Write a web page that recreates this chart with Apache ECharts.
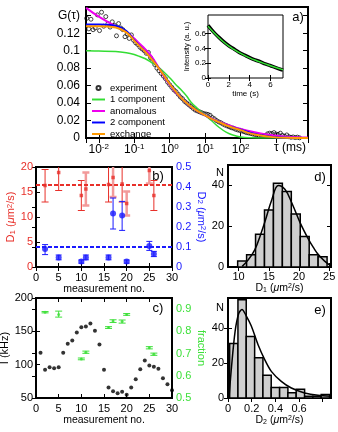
<!DOCTYPE html>
<html>
<head>
<meta charset="utf-8" />
<script src="https://cdn.jsdelivr.net/npm/echarts@6.0.0/dist/echarts.min.js"></script>
<style>body{margin:0;background:#fff}</style>
</head>
<body>
<div id="main" style="width:338px;height:432px"></div>
<script type="text/javascript">
// ---- panel a: FCS autocorrelation ----
var tauFit = [0.0044, 0.01, 0.03, 0.06, 0.1, 0.15, 0.2, 0.3, 0.45, 0.65, 1, 1.5, 2, 3, 4, 6, 10, 15, 25, 40, 60, 100, 200, 400, 800, 2000, 7900];
var g1comp = [0.0998, 0.0995, 0.099, 0.0975, 0.0955, 0.093, 0.091, 0.087, 0.082, 0.0765, 0.069, 0.061, 0.056, 0.048, 0.041, 0.034, 0.026, 0.020, 0.012, 0.0065, 0.0035, 0.0012, 0.0003, 0.0001, 0, 0, 0];
var gAnom = [0.149, 0.139, 0.128, 0.1215, 0.114, 0.107, 0.102, 0.094, 0.083, 0.072, 0.061, 0.052, 0.047, 0.040, 0.0355, 0.031, 0.026, 0.0225, 0.0185, 0.0155, 0.013, 0.0105, 0.0075, 0.005, 0.0032, 0.0015, 0.0005];
var g2comp = [0.130, 0.130, 0.1285, 0.1225, 0.112, 0.104, 0.099, 0.091, 0.082, 0.073, 0.062, 0.053, 0.047, 0.040, 0.036, 0.031, 0.026, 0.022, 0.018, 0.0145, 0.012, 0.0095, 0.0055, 0.0028, 0.0012, 0.0003, 0];
var gExch = [0.128, 0.128, 0.1265, 0.121, 0.1115, 0.104, 0.099, 0.091, 0.082, 0.073, 0.062, 0.053, 0.047, 0.040, 0.036, 0.031, 0.026, 0.022, 0.018, 0.0143, 0.0118, 0.009, 0.005, 0.0025, 0.001, 0.0002, 0];

var tauExp = [
  0.00457, 0.00525, 0.00603, 0.00692, 0.00794, 0.00912, 0.0105, 0.0120, 0.0138, 0.0158,
  0.0182, 0.0209, 0.0240, 0.0275, 0.0316, 0.0363, 0.0417, 0.0479, 0.0550, 0.0631,
  0.0724, 0.0832, 0.0955, 0.110, 0.126, 0.145, 0.166, 0.191, 0.219, 0.251,
  0.288, 0.331, 0.380, 0.437, 0.501, 0.575, 0.661, 0.759, 0.871, 1.00,
  1.15, 1.32, 1.51, 1.74, 2.00, 2.29, 2.63, 3.02, 3.47, 3.98,
  4.57, 5.25, 6.03, 6.92, 7.94, 9.12, 10.5, 12.0, 13.8, 15.8,
  18.2, 20.9, 24.0, 27.5, 31.6, 36.3, 41.7, 47.9, 55.0, 63.1,
  72.4, 83.2, 95.5, 110, 126, 145, 166, 191, 219, 251,
  288, 331, 380, 437, 501, 575, 661, 759, 871, 1000,
  1150, 1320, 1510, 1740, 2000, 2290, 2630, 3020, 3470, 3980,
  4570
];
var gExp = [
  0.137, 0.125, 0.136, 0.124, 0.126, 0.141, 0.123, 0.144, 0.128, 0.139,
  0.131, 0.127, 0.133, 0.129, 0.117, 0.131, 0.126, 0.124, 0.116, 0.119,
  0.114, 0.118, 0.112, 0.109, 0.107, 0.104, 0.102, 0.100, 0.097, 0.098,
  0.092, 0.088, 0.084, 0.080, 0.077, 0.074, 0.071, 0.068, 0.064, 0.061,
  0.058, 0.055, 0.053, 0.050, 0.047, 0.045, 0.042, 0.040, 0.038, 0.036,
  0.034, 0.032, 0.031, 0.030, 0.029, 0.028, 0.0275, 0.027, 0.026, 0.0235,
  0.022, 0.020, 0.0185, 0.0175, 0.016, 0.0148, 0.0138, 0.0128, 0.0118, 0.0112,
  0.0100, 0.0092, 0.0085, 0.0080, 0.0072, 0.0062, 0.0058, 0.0052, 0.0046, 0.0040,
  0.0038, 0.0030, 0.0028, 0.0022, 0.0030, 0.0048, 0.0055, 0.0050, 0.0062, 0.0045,
  0.0040, 0.0055, 0.0030, 0.0020, 0.0035, 0.0015, 0.0008, 0.0012, 0.0005, 0.0010,
  0.0002
];

// inset: intensity trace
var tInset = [0, 0.5, 1, 1.5, 2, 2.5, 3, 3.5, 4, 4.5, 5, 5.5, 6, 6.5, 7, 7.2];
var iData = [0.71, 0.625, 0.555, 0.49, 0.435, 0.39, 0.345, 0.31, 0.275, 0.245, 0.22, 0.19, 0.165, 0.14, 0.115, 0.105];
var iFit = [0.70, 0.62, 0.55, 0.485, 0.43, 0.385, 0.342, 0.305, 0.272, 0.242, 0.215, 0.19, 0.165, 0.142, 0.12, 0.11];

// ---- panel b: diffusion coefficients per measurement ----
var measNo = [2, 5, 10, 11, 16, 17, 19, 20, 25, 26];
var d1 = [16.3, 18.9, 14.3, 15.6, 16.5, 17.9, 16.6, 12.7, 19.3, 14.3];
var d1Lo = [13.0, 15.3, 11.3, 12.3, 13.0, 14.0, 13.0, 10.3, 16.7, 11.3];
var d1Hi = [19.5, 21.0, 17.3, 18.9, 22.0, 22.0, 22.0, 15.1, 21.0, 17.3];
var d1Faint = [0, 0, 0, 1, 0, 1, 0, 1, 1, 0];
var d2 = [0.090, 0.048, 0.027, 0.048, 0.048, 0.268, 0.257, 0.027, 0.105, 0.065];
var d2Lo = [0.062, 0.036, 0.019, 0.036, 0.036, 0.190, 0.183, 0.019, 0.083, 0.052];
var d2Hi = [0.112, 0.060, 0.035, 0.060, 0.060, 0.345, 0.328, 0.035, 0.128, 0.078];
var d1Mean = 16.5;
var d2Mean = 0.1;

// ---- panel c: intensity and fraction ----
var measAll = [1, 2, 3, 4, 5, 6, 7, 8, 9, 10, 11, 12, 13, 14, 15, 16, 17, 18, 19, 20, 21, 22, 23, 24, 25, 26, 27, 28, 29, 30];
var intensity = [118, 92.3, 96.3, 94.8, 96.3, 118, 131.3, 136.3, 148.3, 156.3, 157.3, 161.8, 150.8, 130.3, 92.3, 65.8, 60.3, 57.3, 59.3, 54.8, 65.8, 78.3, 93.3, 106.3, 98.8, 96.8, 93.8, 79.8, 70.8, 61.8];
var frac = [0.886, 0.876, 0.676, 0.706, 0.817, 0.846, 0.844, 0.876, 0.726, 0.697];
var fracLo = [0.883, 0.864, 0.672, 0.701, 0.813, 0.840, 0.837, 0.872, 0.721, 0.692];
var fracHi = [0.889, 0.891, 0.680, 0.711, 0.821, 0.852, 0.851, 0.880, 0.731, 0.702];

// ---- panel d: histogram of D1 ----
var d1BinLo = [9.85, 11.33, 12.81, 14.29, 15.77, 17.25, 18.73, 20.21, 21.69, 23.17];
var d1BinHi = [11.33, 12.81, 14.29, 15.77, 17.25, 18.73, 20.21, 21.69, 23.17, 24.65];
var d1Count = [3, 6, 16, 28, 41, 37, 26, 15, 6, 5];
var d1FitX = [10.6, 11.6, 12.7, 13.6, 14.4, 15.5, 16.6, 17.7, 18.8, 20.2, 21.6, 22.4, 23.2, 24.2, 25.2];
var d1FitN = [0.3, 3.5, 8.5, 15.5, 22.5, 33, 40, 38, 31.5, 21.6, 13.4, 9.5, 6.1, 3, 0.7];

// ---- panel e: histogram of D2 ----
var d2BinLo = [0.014, 0.084, 0.154, 0.225, 0.295, 0.365, 0.436, 0.506, 0.576, 0.647, 0.717, 0.787];
var d2BinHi = [0.084, 0.154, 0.225, 0.295, 0.365, 0.436, 0.506, 0.576, 0.647, 0.717, 0.787, 0.858];
var d2Count = [31, 56, 35, 23, 13, 6, 6, 3, 5, 1, 1, 2];
var d2FitX = [0.008, 0.03, 0.06, 0.09, 0.118, 0.155, 0.197, 0.253, 0.31, 0.366, 0.45, 0.535, 0.647, 0.76, 0.867];
var d2FitN = [0, 18, 38, 48, 50.5, 46.7, 41, 30.5, 21.9, 15.2, 9.5, 5.7, 2.9, 1.5, 1.0];

var FONT = "'Liberation Sans', Arial, Helvetica, sans-serif";
var RED = '#e8302a', BLUE = '#1a1aff', GREEN = '#3ee03a';
var LINE_ICON = 'path://M0,0 H20 V3 H0 Z';

function zip() {
  var cols = Array.prototype.slice.call(arguments);
  return cols[0].map(function (v, i) {
    return cols.map(function (c) { return c[i]; });
  });
}

function richFor(color, size) {
  return {
    sub: {fontSize: Math.round(size * 0.7), color: color, fontFamily: FONT, verticalAlign: 'bottom'},
    sup: {fontSize: Math.round(size * 0.7), color: color, fontFamily: FONT, verticalAlign: 'top'},
    mu: {fontSize: size, color: color, fontFamily: FONT, fontStyle: 'italic'}
  };
}

function ax(o) {
  var a = {
    type: o.type || 'value',
    gridIndex: o.grid,
    position: o.pos,
    min: o.min,
    max: o.max,
    axisLine: {show: false},
    splitLine: {show: false},
    axisTick: {show: true, inside: true, length: o.tickLen || 4, lineStyle: {color: '#000', width: 1}},
    axisLabel: {show: !!o.labels, color: o.color || '#000', fontSize: o.fs || 11, fontFamily: FONT, margin: o.margin == null ? 4 : o.margin}
  };
  if (o.type === 'log') a.logBase = 10;
  if (o.interval != null) a.interval = o.interval;
  if (o.ticks) a.axisTick.customValues = o.ticks;
  if (Array.isArray(o.labels)) a.axisLabel.customValues = o.labels;
  if (o.fmt) a.axisLabel.formatter = o.fmt;
  if (o.rich) a.axisLabel.rich = o.rich;
  if (o.name) {
    a.name = o.name;
    a.nameLocation = 'middle';
    a.nameGap = o.gap;
    if (o.rot != null) a.nameRotate = o.rot;
    a.nameTextStyle = {color: o.nameColor || o.color || '#000', fontSize: o.nfs || 11, fontFamily: FONT, rich: richFor(o.nameColor || o.color || '#000', o.nfs || 11)};
  }
  return a;
}

function expLabel(v) {
  var e = Math.log10(v), r = Math.round(e);
  if (Math.abs(e - r) > 0.01 || r < -2 || r > 2) return '';
  return '10{sup|' + r + '}';
}
function gLabel(v) {
  if (Math.abs(v - 0.14) < 1e-6) return 'G(τ)';
  if (v > 0.141) return '';
  return String(+v.toFixed(2));
}

function errBar(color, cap, width) {
  return function (params, api) {
    var x = api.value(0), lo = api.value(1), hi = api.value(2);
    var a = api.coord([x, hi]), b = api.coord([x, lo]);
    var cs = params.coordSys;
    var top = cs.y, bot = cs.y + cs.height;
    var st = {stroke: color, lineWidth: width};
    var ch = [{type: 'line', shape: {x1: a[0], y1: Math.max(a[1], top), x2: a[0], y2: Math.min(b[1], bot)}, style: st}];
    if (a[1] >= top) ch.push({type: 'line', shape: {x1: a[0] - cap / 2, y1: a[1], x2: a[0] + cap / 2, y2: a[1]}, style: st});
    if (b[1] <= bot) ch.push({type: 'line', shape: {x1: b[0] - cap / 2, y1: b[1], x2: b[0] + cap / 2, y2: b[1]}, style: st});
    return {type: 'group', children: ch};
  };
}

function histBar(params, api) {
  var p0 = api.coord([api.value(0), api.value(2)]);
  var p1 = api.coord([api.value(1), 0]);
  return {type: 'rect', shape: {x: p0[0], y: p0[1], width: p1[0] - p0[0], height: p1[1] - p0[1]},
    style: {fill: '#cfcfcf', stroke: '#000', lineWidth: 1.5}};
}

function pick(arr, want) {
  return arr.filter(function (v, i) { return d1Faint[i] === want; });
}

function gridBox(l, t, w, h, bw) {
  return {left: l, top: t, width: w, height: h, show: true, borderColor: '#000', borderWidth: bw || 2,
    backgroundColor: 'transparent', containLabel: false, outerBoundsMode: 'none'};
}

var D1NAME = 'D{sub|1} ({mu|μ}m{sup|2}/s)';
var D2NAME = 'D{sub|2} ({mu|μ}m{sup|2}/s)';

var option = {
  animation: false,
  backgroundColor: '#fff',
  textStyle: {fontFamily: FONT},
  grid: [
    gridBox(86, 7, 222, 131),
    gridBox(208, 15, 75, 63, 1),
    gridBox(36, 167, 136, 100),
    gridBox(36, 298, 136, 100),
    gridBox(228, 165, 103, 102),
    gridBox(228, 298, 103, 100)
  ],
  xAxis: [
    ax({type: 'log', grid: 0, pos: 'bottom', min: 0.00437, max: 7943, labels: true, fmt: expLabel, fs: 12, margin: 5, tickLen: 5,
      rich: {sup: {fontSize: 8, fontFamily: FONT, color: '#000', verticalAlign: 'top', padding: [0, 0, 5, 0]}}}),
    ax({type: 'log', grid: 0, pos: 'top', min: 0.00437, max: 7943, tickLen: 5}),
    ax({grid: 1, pos: 'bottom', min: 0, max: 7.2, labels: [0, 2, 4, 6], ticks: [0, 2, 4, 6], fs: 8, margin: 3, tickLen: 3,
      name: 'time (s)', gap: 12, nfs: 8}),
    ax({grid: 1, pos: 'top', min: 0, max: 7.2, ticks: [0, 2, 4, 6], tickLen: 3}),
    ax({grid: 2, pos: 'bottom', min: 0, max: 30, interval: 5, labels: true, margin: 5, name: 'measurement no.', gap: 15, nfs: 10.5}),
    ax({grid: 2, pos: 'top', min: 0, max: 30, interval: 5}),
    ax({grid: 3, pos: 'bottom', min: 0, max: 30, interval: 5, labels: true, margin: 5, name: 'measurement no.', gap: 15, nfs: 10.5}),
    ax({grid: 3, pos: 'top', min: 0, max: 30, interval: 5}),
    ax({grid: 4, pos: 'bottom', min: 8.25, max: 25.3, labels: [10, 15, 20, 25], ticks: [10, 15, 20, 25], margin: 4,
      name: D1NAME, gap: 15, nfs: 10.5}),
    ax({grid: 4, pos: 'top', min: 8.25, max: 25.3, ticks: [10, 15, 20, 25]}),
    ax({grid: 5, pos: 'bottom', min: 0, max: 0.87, labels: [0, 0.2, 0.4, 0.6], ticks: [0, 0.2, 0.4, 0.6, 0.8], margin: 5,
      name: D2NAME, gap: 17, nfs: 10.5}),
    ax({grid: 5, pos: 'top', min: 0, max: 0.87, ticks: [0, 0.2, 0.4, 0.6, 0.8]})
  ],
  yAxis: [
    ax({grid: 0, pos: 'left', min: 0, max: 0.15, interval: 0.02, labels: true, fmt: gLabel, fs: 12, margin: 6, tickLen: 5}),
    ax({grid: 0, pos: 'right', min: 0, max: 0.15, interval: 0.02, tickLen: 5}),
    ax({grid: 1, pos: 'left', min: 0, max: 0.85, labels: [0, 0.2, 0.4, 0.6], ticks: [0, 0.2, 0.4, 0.6], fs: 8, margin: 2, tickLen: 3,
      name: 'Intensity (a. u.)', gap: 15, nfs: 7.5}),
    ax({grid: 1, pos: 'right', min: 0, max: 0.85, ticks: [0, 0.2, 0.4, 0.6], tickLen: 3}),
    ax({grid: 2, pos: 'left', min: 0, max: 20, interval: 5, labels: true, color: RED, margin: 3,
      name: D1NAME, gap: 16, rot: 90, nfs: 11}),
    ax({grid: 2, pos: 'right', min: 0, max: 0.5, interval: 0.1, labels: true, color: BLUE, margin: 4,
      name: D2NAME, gap: 24, rot: -90, nfs: 11}),
    ax({grid: 3, pos: 'left', min: 50, max: 200, interval: 50, labels: true, margin: 3,
      name: 'I (kHz)', gap: 21, rot: 90, nfs: 11}),
    ax({grid: 3, pos: 'right', min: 0.5, max: 0.95, interval: 0.1, labels: true, color: GREEN, margin: 4,
      fmt: function (v) { return v > 0.91 ? '' : v.toFixed(1); },
      name: 'fraction', gap: 24, rot: -90, nfs: 11}),
    ax({grid: 4, pos: 'left', min: 0, max: 50, labels: [0, 20, 40, 46], ticks: [0, 20, 40], margin: 4,
      fmt: function (v) { return v > 45 ? 'N' : String(v); }}),
    ax({grid: 4, pos: 'right', min: 0, max: 50, ticks: [0, 20, 40]}),
    ax({grid: 5, pos: 'left', min: 0, max: 57, labels: [0, 20, 40, 51.5], ticks: [0, 20, 40], margin: 4,
      fmt: function (v) { return v > 45 ? 'N' : String(v); }}),
    ax({grid: 5, pos: 'right', min: 0, max: 57, ticks: [0, 20, 40]})
  ],
  legend: {
    data: [
      {name: 'experiment', icon: 'circle'},
      {name: '1 component', icon: LINE_ICON},
      {name: 'anomalous', icon: LINE_ICON},
      {name: '2 component', icon: LINE_ICON},
      {name: 'exchange', icon: LINE_ICON}
    ],
    orient: 'vertical', left: 92, top: 83, padding: 0,
    itemWidth: 13, itemHeight: 4, itemGap: 1.5,
    selectedMode: false,
    textStyle: {color: '#000', fontSize: 9.5, fontFamily: FONT}
  },
  graphic: [
    {type: 'text', x: 298, y: 17, style: {text: 'a)', fill: '#000', font: '13px ' + FONT, align: 'center', verticalAlign: 'middle'}},
    {type: 'text', x: 158, y: 176, style: {text: 'b)', fill: '#000', font: '13px ' + FONT, align: 'center', verticalAlign: 'middle'}},
    {type: 'text', x: 158, y: 308, style: {text: 'c)', fill: '#000', font: '13px ' + FONT, align: 'center', verticalAlign: 'middle'}},
    {type: 'text', x: 320, y: 177, style: {text: 'd)', fill: '#000', font: '13px ' + FONT, align: 'center', verticalAlign: 'middle'}},
    {type: 'text', x: 320, y: 310, style: {text: 'e)', fill: '#000', font: '13px ' + FONT, align: 'center', verticalAlign: 'middle'}},
    {type: 'text', x: 290, y: 148, style: {text: 'τ (ms)', fill: '#000', font: '12px ' + FONT, align: 'center', verticalAlign: 'middle'}}
  ],
  series: [
    // panel a
    {name: 'experiment', type: 'scatter', xAxisIndex: 0, yAxisIndex: 0, data: zip(tauExp, gExp),
      symbol: 'circle', symbolSize: 4, itemStyle: {color: 'rgba(255,255,255,0)', borderColor: '#000', borderWidth: 0.9}},
    {name: '1 component', type: 'line', xAxisIndex: 0, yAxisIndex: 0, data: zip(tauFit, g1comp), smooth: 0.4,
      symbol: 'none', showSymbol: false, lineStyle: {color: '#33dd33', width: 1.5}, itemStyle: {color: '#33dd33'}},
    {name: 'anomalous', type: 'line', xAxisIndex: 0, yAxisIndex: 0, data: zip(tauFit, gAnom), smooth: 0.4,
      symbol: 'none', showSymbol: false, lineStyle: {color: '#ee00ee', width: 2}, itemStyle: {color: '#ee00ee'}},
    {name: '2 component', type: 'line', xAxisIndex: 0, yAxisIndex: 0, data: zip(tauFit, g2comp), smooth: 0.4,
      symbol: 'none', showSymbol: false, lineStyle: {color: '#0000ff', width: 2}, itemStyle: {color: '#0000ff'}},
    {name: 'exchange', type: 'line', xAxisIndex: 0, yAxisIndex: 0, data: zip(tauFit, gExch), smooth: 0.4,
      symbol: 'none', showSymbol: false, lineStyle: {color: '#ff9900', width: 2}, itemStyle: {color: '#ff9900'}},
    // inset
    {type: 'line', xAxisIndex: 2, yAxisIndex: 2, data: zip(tInset, iData), smooth: 0.3,
      symbol: 'none', lineStyle: {color: '#000', width: 3.5}},
    {type: 'line', xAxisIndex: 2, yAxisIndex: 2, data: zip(tInset, iFit), smooth: 0.3,
      symbol: 'none', lineStyle: {color: '#33dd33', width: 1.5}},
    // panel b
    {type: 'custom', xAxisIndex: 4, yAxisIndex: 4, renderItem: errBar(RED, 7, 1),
      encode: {x: 0, y: [1, 2]}, data: zip(pick(measNo, 0), pick(d1Lo, 0), pick(d1Hi, 0))},
    {type: 'custom', xAxisIndex: 4, yAxisIndex: 4, renderItem: errBar('#f29a9a', 7, 2.5),
      encode: {x: 0, y: [1, 2]}, data: zip(pick(measNo, 1), pick(d1Lo, 1), pick(d1Hi, 1))},
    {type: 'scatter', xAxisIndex: 4, yAxisIndex: 4, data: zip(measNo, d1), symbol: 'rect', symbolSize: 3.5,
      itemStyle: {color: RED},
      markLine: {symbol: 'none', silent: true, label: {show: false}, lineStyle: {color: RED, type: [4, 2], width: 2},
        data: [{yAxis: d1Mean}]}},
    {type: 'custom', xAxisIndex: 4, yAxisIndex: 5, renderItem: errBar(BLUE, 6, 1),
      encode: {x: 0, y: [1, 2]}, data: zip(measNo, d2Lo, d2Hi)},
    {type: 'scatter', xAxisIndex: 4, yAxisIndex: 5, data: zip(measNo, d2), symbol: 'circle', symbolSize: 6,
      itemStyle: {color: BLUE},
      markLine: {symbol: 'none', silent: true, label: {show: false}, lineStyle: {color: BLUE, type: [4, 2], width: 2},
        data: [{yAxis: d2Mean}]}},
    // panel c
    {type: 'scatter', xAxisIndex: 6, yAxisIndex: 6, data: zip(measAll, intensity), symbol: 'circle', symbolSize: 4,
      itemStyle: {color: '#000'}},
    {type: 'custom', xAxisIndex: 6, yAxisIndex: 7, renderItem: errBar(GREEN, 7, 1),
      encode: {x: 0, y: [1, 2]}, data: zip(measNo, fracLo, fracHi)},
    {type: 'scatter', xAxisIndex: 6, yAxisIndex: 7, data: zip(measNo, frac), symbol: 'circle', symbolSize: 3,
      itemStyle: {color: GREEN}},
    // panel d
    {type: 'custom', xAxisIndex: 8, yAxisIndex: 8, renderItem: histBar, encode: {x: [0, 1], y: 2},
      data: zip(d1BinLo, d1BinHi, d1Count)},
    {type: 'line', xAxisIndex: 8, yAxisIndex: 8, data: zip(d1FitX, d1FitN), smooth: 0.4, symbol: 'none',
      lineStyle: {color: '#000', width: 1.5}},
    // panel e
    {type: 'custom', xAxisIndex: 10, yAxisIndex: 10, renderItem: histBar, encode: {x: [0, 1], y: 2},
      data: zip(d2BinLo, d2BinHi, d2Count)},
    {type: 'line', xAxisIndex: 10, yAxisIndex: 10, data: zip(d2FitX, d2FitN), smooth: 0.3, symbol: 'none',
      lineStyle: {color: '#000', width: 1.5}}
  ]
};

var chart = echarts.init(document.getElementById('main'), null, {renderer: 'canvas'});
chart.setOption(option);
</script>
</body>
</html>
